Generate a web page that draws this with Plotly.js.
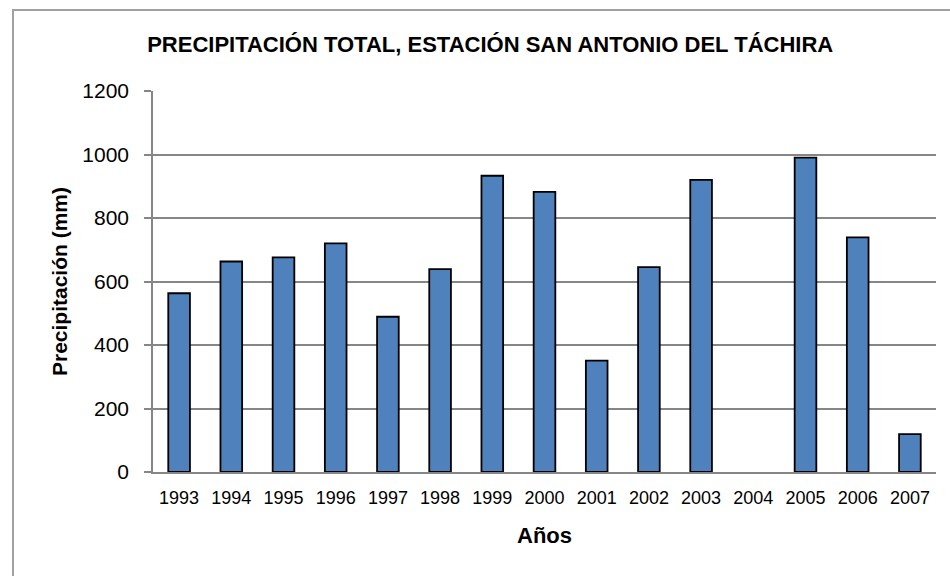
<!DOCTYPE html>
<html>
<head>
<meta charset="utf-8">
<script src="https://cdn.plot.ly/plotly-3.0.1.min.js"></script>
<style>
html,body{margin:0;padding:0;background:#fff;}
#chart{width:950px;height:576px;}
</style>
</head>
<body>
<div id="chart"></div>
<script>
var years = ["1993","1994","1995","1996","1997","1998","1999","2000","2001","2002","2003","2004","2005","2006","2007"];
var precipitation = [563, 663, 676, 720, 489, 639, 933, 882, 351, 645, 920, null, 990, 739, 119];
var yTicks = [0, 200, 400, 600, 800, 1000, 1200];

var FONT = "'Liberation Sans Narrow', 'Arial Narrow', 'Liberation Sans', Arial, sans-serif";

var trace = {
  type: "bar",
  x: years,
  y: precipitation,
  marker: {color: "#4F81BD", line: {color: "#000000", width: 1.8}},
  hoverinfo: "x+y"
};

var layout = {
  width: 950,
  height: 576,
  margin: {l: 153, r: 14, t: 91, b: 103.5},
  paper_bgcolor: "#ffffff",
  plot_bgcolor: "#ffffff",
  bargap: 0.585,
  showlegend: false,
  title: {
    text: "<b>PRECIPITACIÓN TOTAL, ESTACIÓN SAN ANTONIO DEL TÁCHIRA</b>",
    font: {family: FONT, size: 22, color: "#000"},
    xref: "container", x: 0.516, xanchor: "center",
    yref: "container", y: 0.9236, yanchor: "middle"
  },
  xaxis: {
    type: "category",
    tickvals: years,
    ticktext: years,
    showgrid: false,
    showline: true,
    linecolor: "#868686",
    linewidth: 1.5,
    ticks: "",
    ticklabelstandoff: 9,
    tickfont: {family: FONT, size: 18, color: "#000"},
    title: {text: "<b>Años</b>", font: {family: FONT, size: 22, color: "#000"}, standoff: 20},
    fixedrange: true
  },
  yaxis: {
    range: [0, 1200],
    tickvals: yTicks,
    ticktext: yTicks.map(String),
    showgrid: true,
    gridcolor: "#868686",
    gridwidth: 1.5,
    zeroline: false,
    showline: true,
    linecolor: "#868686",
    linewidth: 1.5,
    ticks: "outside",
    ticklen: 7,
    tickwidth: 1.5,
    tickcolor: "#868686",
    ticklabelstandoff: 11,
    tickfont: {family: FONT, size: 21, color: "#000"},
    title: {text: "<b>Precipitación (mm)</b>", font: {family: FONT, size: 21, color: "#000"}, standoff: 9},
    fixedrange: true
  },
  shapes: [{
    type: "rect", xref: "paper", yref: "paper",
    x0: (13 - 153) / 783, x1: (960 - 153) / 783,
    y0: -(600 - 472.5) / 381.5, y1: (472.5 - 10) / 381.5,
    line: {color: "#a0a0a0", width: 2},
    fillcolor: "rgba(0,0,0,0)",
    layer: "below"
  }]
};

Plotly.newPlot("chart", [trace], layout, {displayModeBar: false, staticPlot: false});
</script>
</body>
</html>
